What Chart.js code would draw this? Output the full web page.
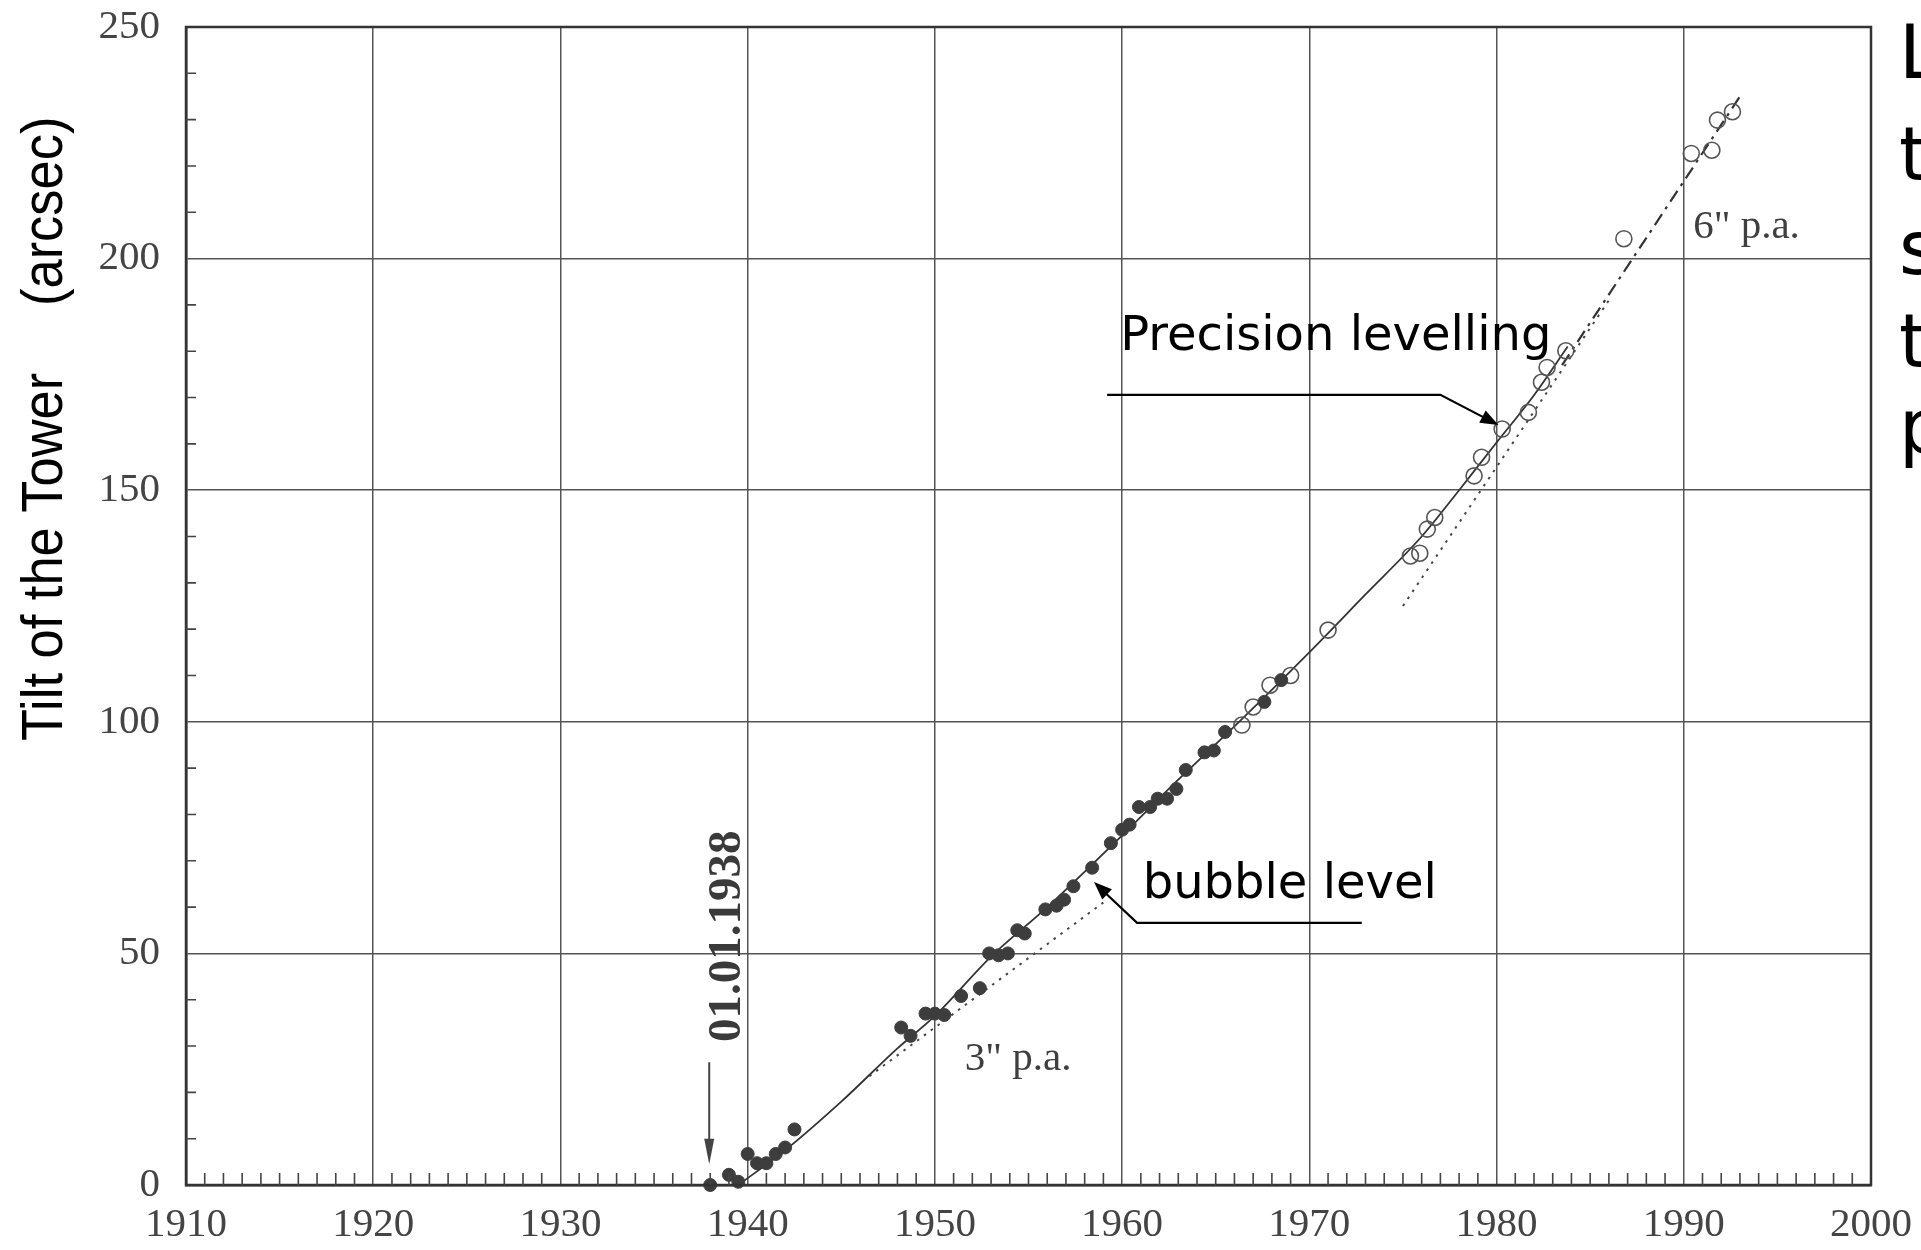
<!DOCTYPE html>
<html><head><meta charset="utf-8">
<script src="https://cdn.jsdelivr.net/npm/chart.js@4.4.1/dist/chart.umd.min.js"></script>
<style>html,body{margin:0;padding:0;background:#fff;overflow:hidden}canvas{display:block}</style>
</head><body>
<canvas id="c" width="1921" height="1250" style="width:1921px;height:1250px"></canvas>
<script>
// ---- data ----
const bubbleYears = [1938.0,1938.6,1939.0,1939.5,1940.0,1940.5,1941.0,1941.5,1942.0,1942.5,1948.2,1948.7,1949.5,1950.0,1950.5,1951.4,1952.4,1952.9,1953.4,1953.9,1954.4,1954.8,1955.9,1956.5,1956.9,1957.4,1958.4,1959.4,1960.0,1960.4,1960.9,1961.5,1961.9,1962.4,1962.9,1963.4,1964.4,1964.9,1965.5,1967.6,1968.5];
const bubbleTilt  = [0,-2,2.2,0.7,6.7,4.7,4.7,6.7,8.1,12,34,32.2,37,37,36.7,40.8,42.5,50,49.6,50,55,54.3,59.5,60.3,61.6,64.5,68.5,73.8,76.7,77.8,81.6,81.6,83.4,83.4,85.5,89.6,93.4,93.8,97.8,104.3,109];
const precisionYears = [1966.4,1967.0,1967.9,1969.0,1971.0,1975.4,1975.9,1976.3,1976.7,1978.8,1979.2,1980.3,1981.7,1982.4,1982.7,1983.7,1986.8,1990.4,1991.5,1991.8,1992.6];
const precisionTilt  = [99.3,103.2,107.9,110,119.8,135.8,136.4,141.6,144.1,153.1,157.1,163.2,166.8,173.3,176.5,180.1,204.3,222.7,223.4,229.9,231.7];
const curveYears = [1939.5,1942,1945,1948,1950,1953,1956,1960,1963,1966,1970,1973,1976,1978,1980,1982,1983.8];
const curveTilt  = [0,7.5,18,29.5,36.5,49.3,60,75.5,87.5,99,115,127.5,140,150,160.3,170.5,181];
const trend3Years = [1946.5,1959];
const trend3Tilt  = [23.5,61];
const trend6Years = [1975,1986];
const trend6Tilt  = [125,191];
const trend6bYears = [1983.5,1993];
const trend6bTilt  = [177,235];
const xTickLabels = [1910,1920,1930,1940,1950,1960,1970,1980,1990,2000];
const yTickLabels = [0,50,100,150,200,250];
const yMinorStep = 10, xMinorStep = 1;
const sideLetters = ['L','t','s','t','p'];

const pts = (xs, ys) => xs.map((x, i) => ({x, y: ys[i]}));

const deco = {
  id: 'deco',
  afterDraw(chart) {
    const {ctx, chartArea: a, scales: {x, y}} = chart;
    const X = v => x.getPixelForValue(v), Y = v => y.getPixelForValue(v);
    ctx.save();
    // frame
    ctx.strokeStyle = '#333'; ctx.lineWidth = 2.5;
    ctx.strokeRect(a.left, a.top, a.right - a.left, a.bottom - a.top);
    // minor ticks (inward)
    ctx.lineWidth = 1.6; ctx.strokeStyle = '#444';
    ctx.beginPath();
    for (let v = y.min + yMinorStep; v < y.max; v += yMinorStep) {
      if (v % 50) { ctx.moveTo(a.left, Y(v)); ctx.lineTo(a.left + 10, Y(v)); }
    }
    for (let yr = x.min + xMinorStep; yr < x.max; yr += xMinorStep) {
      if (yr % 10) { ctx.moveTo(X(yr), a.bottom); ctx.lineTo(X(yr), a.bottom - 12); }
    }
    ctx.stroke();

    // 01.01.1938 rotated label + arrow
    ctx.save();
    ctx.translate(X(1938) + 18, Y(53.7));
    ctx.rotate(-Math.PI / 2);
    ctx.font = 'bold 47px "Liberation Serif"';
    ctx.fillStyle = '#3a3a3a'; ctx.textAlign = 'center'; ctx.textBaseline = 'middle';
    ctx.fillText('01.01.1938', 0, 0);
    ctx.restore();
    const ax = X(1938) - 1;
    ctx.strokeStyle = '#444'; ctx.lineWidth = 2;
    ctx.beginPath(); ctx.moveTo(ax, Y(26.5)); ctx.lineTo(ax, Y(8)); ctx.stroke();
    ctx.fillStyle = '#444';
    ctx.beginPath(); ctx.moveTo(ax, Y(4.5)); ctx.lineTo(ax - 5, Y(10)); ctx.lineTo(ax + 5, Y(10)); ctx.closePath(); ctx.fill();

    // p.a. labels
    ctx.font = '41px "Liberation Serif"'; ctx.fillStyle = '#3f3f3f';
    ctx.textAlign = 'left'; ctx.textBaseline = 'alphabetic';
    ctx.fillText('3" p.a.', X(1951.6), Y(24.8));
    ctx.fillText('6" p.a.', X(1990.5), Y(204.5));

    // arrow helper
    const arrowHead = (fx, fy, tx, ty, len, wid) => {
      const ang = Math.atan2(ty - fy, tx - fx);
      ctx.beginPath();
      ctx.moveTo(tx, ty);
      ctx.lineTo(tx - len * Math.cos(ang) + wid / 2 * Math.sin(ang), ty - len * Math.sin(ang) - wid / 2 * Math.cos(ang));
      ctx.lineTo(tx - len * Math.cos(ang) - wid / 2 * Math.sin(ang), ty - len * Math.sin(ang) + wid / 2 * Math.cos(ang));
      ctx.closePath(); ctx.fill();
    };

    // Precision levelling
    ctx.font = '48px "DejaVu Sans"'; ctx.fillStyle = '#000';
    ctx.fillText('Precision levelling', X(1959.9), Y(180.3));
    ctx.strokeStyle = '#000'; ctx.lineWidth = 2.2;
    let p0 = [X(1959.2), Y(170.6)], p1 = [X(1977.0), Y(170.6)], p2 = [X(1980.1), Y(164.1)];
    ctx.beginPath(); ctx.moveTo(...p0); ctx.lineTo(...p1); ctx.lineTo(p2[0] - 8, p2[1] - 4); ctx.stroke();
    arrowHead(p1[0], p1[1], p2[0], p2[1], 18, 14);

    // bubble level
    ctx.fillText('bubble level', X(1961.1), Y(62));
    p0 = [X(1972.8), Y(56.6)]; p1 = [X(1960.8), Y(56.6)]; p2 = [X(1958.5), Y(65.4)];
    ctx.beginPath(); ctx.moveTo(...p0); ctx.lineTo(...p1); ctx.lineTo(p2[0] + 6, p2[1] + 6); ctx.stroke();
    arrowHead(p1[0], p1[1], p2[0], p2[1], 18, 14);

    // y axis title
    ctx.save();
    ctx.fillStyle = '#000';
    ctx.font = '57px "Liberation Sans"';
    ctx.translate(62, 741);
    ctx.rotate(-Math.PI / 2);
    ctx.scale(0.92, 1);
    ctx.textAlign = 'left'; ctx.textBaseline = 'alphabetic';
    ctx.fillText('Tilt of the Tower', 0, 0);
    ctx.fillText('(arcsec)', (741 - 306) / 0.92, 0);
    ctx.restore();

    // cut-off text at right edge
    const letterBaselines = [78, 180, 274, 367, 452];
    ctx.font = '74px "DejaVu Sans"'; ctx.fillStyle = '#000';
    ctx.textAlign = 'left'; ctx.textBaseline = 'alphabetic';
    sideLetters.forEach((s, i) => ctx.fillText(s, a.right + 28, letterBaselines[i]));
    ctx.restore();
  }
};

new Chart(document.getElementById('c'), {
  type: 'scatter',
  data: {
    datasets: [
      { label: 'fit', data: pts(curveYears, curveTilt), showLine: true, pointRadius: 0,
        borderColor: '#333', borderWidth: 1.8, tension: 0.4, cubicInterpolationMode: 'monotone', order: 3 },
      { label: '3 p.a.', data: pts(trend3Years, trend3Tilt), showLine: true, pointRadius: 0,
        borderColor: '#444', borderWidth: 2, borderDash: [2.5, 6], order: 3 },
      { label: '6 p.a.', data: pts(trend6Years, trend6Tilt), showLine: true, pointRadius: 0,
        borderColor: '#444', borderWidth: 2, borderDash: [2.5, 6], order: 3 },
      { label: '6 p.a. b', data: pts(trend6bYears, trend6bTilt), showLine: true, pointRadius: 0,
        borderColor: '#333', borderWidth: 2.2, borderDash: [13, 6, 3, 6], order: 3 },
      { label: 'bubble level', data: pts(bubbleYears, bubbleTilt), pointRadius: 6.5,
        backgroundColor: '#3d3d3d', borderColor: '#3d3d3d', borderWidth: 1, clip: 20, order: 1 },
      { label: 'precision levelling', data: pts(precisionYears, precisionTilt), pointRadius: 8,
        backgroundColor: 'rgba(255,255,255,0)', borderColor: '#555', borderWidth: 1.6, order: 2 }
    ]
  },
  options: {
    responsive: false, animation: false, devicePixelRatio: 1,
    layout: { padding: { top: 27, right: 50, left: 0, bottom: 0 } },
    plugins: { legend: { display: false }, tooltip: { enabled: false } },
    scales: {
      x: {
        type: 'linear', min: 1910, max: 2000,
        afterFit: s => { s.height = 65; s.paddingLeft = 0; s.paddingRight = 0; },
        afterBuildTicks: s => { s.ticks = xTickLabels.map(v => ({value: v})); },
        ticks: { padding: 16, color: '#444', font: { family: 'Liberation Serif', size: 41 }, maxRotation: 0, autoSkip: false,
                 callback: v => String(v) },
        grid: { color: '#555', lineWidth: 1.5, drawTicks: false },
        border: { display: true, color: '#333', width: 2.5 }
      },
      y: {
        type: 'linear', min: 0, max: 250,
        afterFit: s => { s.width = 186; s.paddingTop = 0; s.paddingBottom = 0; },
        afterBuildTicks: s => { s.ticks = yTickLabels.map(v => ({value: v})); },
        ticks: { padding: 26, color: '#444', font: { family: 'Liberation Serif', size: 41 }, autoSkip: false,
                 callback: v => String(v) },
        grid: { color: '#555', lineWidth: 1.5, drawTicks: false },
        border: { display: true, color: '#333', width: 2.5 }
      }
    }
  },
  plugins: [deco]
});
</script>
</body></html>
